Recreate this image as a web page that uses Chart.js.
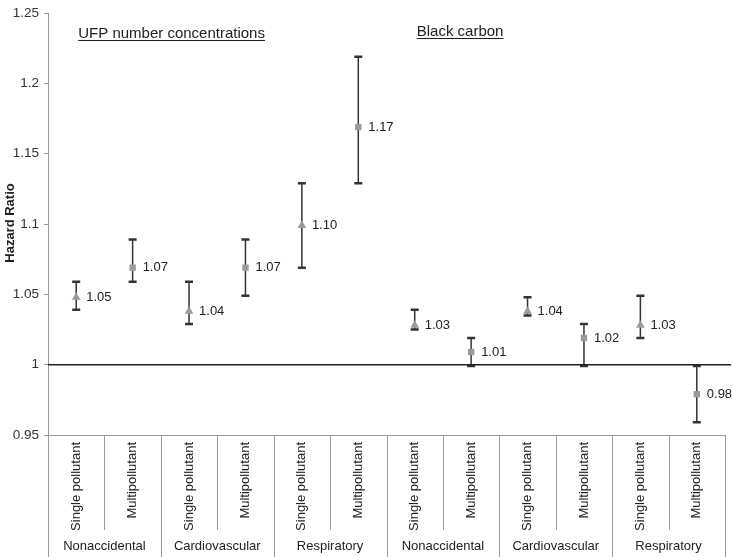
<!DOCTYPE html>
<html>
<head>
<meta charset="utf-8">
<script src="https://cdn.jsdelivr.net/npm/chart.js@4/dist/chart.umd.min.js"></script>
<style>
  html, body { margin: 0; padding: 0; background: #fff; }
  #wrap { width: 733px; height: 557px; }
</style>
</head>
<body>
<div id="wrap"><canvas id="hrChart" width="733" height="557"></canvas></div>
<script>
// data
const outcomes = ['Nonaccidental', 'Nonaccidental', 'Cardiovascular', 'Cardiovascular', 'Respiratory', 'Respiratory',
                  'Nonaccidental', 'Nonaccidental', 'Cardiovascular', 'Cardiovascular', 'Respiratory', 'Respiratory']
const models = ['Single pollutant', 'Multipollutant', 'Single pollutant', 'Multipollutant', 'Single pollutant', 'Multipollutant',
                'Single pollutant', 'Multipollutant', 'Single pollutant', 'Multipollutant', 'Single pollutant', 'Multipollutant']
const pollutants = ['UFP number concentrations', 'Black carbon']
const hazardRatio = [1.048, 1.069, 1.038, 1.069, 1.099, 1.169, 1.028, 1.009, 1.038, 1.019, 1.028, 0.979]
const lowerCI = [1.039, 1.059, 1.029, 1.049, 1.069, 1.129, 1.025, 0.999, 1.035, 0.999, 1.019, 0.959]
const upperCI = [1.059, 1.089, 1.059, 1.089, 1.129, 1.219, 1.039, 1.019, 1.048, 1.029, 1.049, 0.999]
const yTicks = [0.95, 1, 1.05, 1.1, 1.15, 1.2, 1.25]

const FONT = '"Liberation Sans", Arial, Helvetica, sans-serif'
const categories = models.map((m, i) => m + ' ' + i)

// error bars under the markers
const errorBars = {
    id: 'errorBars',
    beforeDatasetsDraw(chart) {
        const ctx = chart.ctx
        const x = chart.scales.x
        const y = chart.scales.y
        ctx.save()
        ctx.strokeStyle = '#333'
        hazardRatio.forEach((v, i) => {
            const px = x.getPixelForValue(i)
            const top = y.getPixelForValue(upperCI[i])
            const bot = y.getPixelForValue(lowerCI[i])
            ctx.lineWidth = 1.5
            ctx.beginPath()
            ctx.moveTo(px, top)
            ctx.lineTo(px, bot)
            ctx.stroke()
            ctx.lineWidth = 2.5
            ctx.beginPath()
            ctx.moveTo(px - 4, top)
            ctx.lineTo(px + 4, top)
            ctx.moveTo(px - 4, bot)
            ctx.lineTo(px + 4, bot)
            ctx.stroke()
        })
        ctx.restore()
    },
    afterDatasetsDraw(chart) {
        const ctx = chart.ctx
        const x = chart.scales.x
        const y = chart.scales.y
        ctx.save()
        // value labels
        ctx.fillStyle = '#222'
        ctx.font = '13px ' + FONT
        ctx.textAlign = 'left'
        ctx.textBaseline = 'middle'
        hazardRatio.forEach((v, i) => {
            ctx.fillText(v.toFixed(2), x.getPixelForValue(i) + 10, y.getPixelForValue(v))
        })
        ctx.restore()
    }
}

// reference line, category box, headings, y title
const decorations = {
    id: 'decorations',
    beforeDatasetsDraw(chart) {
        const ctx = chart.ctx
        const area = chart.chartArea
        const y1 = chart.scales.y.getPixelForValue(1)
        ctx.save()
        ctx.strokeStyle = '#222'
        ctx.lineWidth = 1.5
        ctx.beginPath()
        ctx.moveTo(area.left, y1)
        ctx.lineTo(chart.width - 2, y1)
        ctx.stroke()
        ctx.restore()
    },
    afterDraw(chart) {
        const ctx = chart.ctx
        const area = chart.chartArea
        const x = chart.scales.x
        const colW = (area.right - area.left) / categories.length
        ctx.save()

        // category box lines
        ctx.strokeStyle = '#9a9a9a'
        ctx.lineWidth = 1
        ctx.beginPath()
        ctx.moveTo(area.left, area.bottom + 0.5)
        ctx.lineTo(area.right, area.bottom + 0.5)
        for (let i = 0; i <= categories.length; i++) {
            const px = Math.round(area.left + i * colW) + 0.5
            ctx.moveTo(px, area.bottom)
            ctx.lineTo(px, i % 2 === 0 ? chart.height : area.bottom + 95)
        }
        ctx.stroke()

        // rotated model labels
        ctx.fillStyle = '#222'
        ctx.font = '13px ' + FONT
        ctx.textBaseline = 'middle'
        ctx.textAlign = 'right'
        models.forEach((m, i) => {
            ctx.save()
            ctx.translate(x.getPixelForValue(i), area.bottom + 7)
            ctx.rotate(-Math.PI / 2)
            ctx.fillText(m, 0, 0)
            ctx.restore()
        })

        // outcome labels under each pair
        ctx.textAlign = 'center'
        for (let i = 0; i < outcomes.length; i += 2) {
            const cx = (x.getPixelForValue(i) + x.getPixelForValue(i + 1)) / 2
            ctx.fillText(outcomes[i], cx, area.bottom + 111)
        }

        // pollutant headings, underlined
        ctx.font = '15px ' + FONT
        ctx.textAlign = 'left'
        ctx.textBaseline = 'alphabetic'
        ctx.strokeStyle = '#222'
        pollutants.forEach((p, k) => {
            const px = x.getPixelForValue(k * 6) + 2
            const py = k === 0 ? 38 : 36
            ctx.fillText(p, px, py)
            const w = ctx.measureText(p).width
            ctx.beginPath()
            ctx.moveTo(px, py + 2.5)
            ctx.lineTo(px + w, py + 2.5)
            ctx.stroke()
        })

        // y axis title
        ctx.font = 'bold 13px ' + FONT
        ctx.textAlign = 'center'
        ctx.textBaseline = 'middle'
        ctx.translate(10, 223)
        ctx.rotate(-Math.PI / 2)
        ctx.fillText('Hazard Ratio', 0, 0)
        ctx.restore()
    }
}

new Chart(document.getElementById('hrChart'), {
    type: 'line',
    data: {
        labels: categories,
        datasets: [{
            data: hazardRatio,
            showLine: false,
            pointStyle: models.map(m => m === 'Single pollutant' ? 'triangle' : 'rect'),
            pointRadius: models.map(m => m === 'Single pollutant' ? 5 : 4.5),
            pointBackgroundColor: '#9a9a9a',
            pointBorderColor: '#9a9a9a',
            pointBorderWidth: 0
        }]
    },
    options: {
        responsive: false,
        animation: false,
        events: [],
        layout: { padding: { top: 8, right: 8, bottom: 122, left: 0 } },
        plugins: {
            legend: { display: false },
            tooltip: { enabled: false }
        },
        scales: {
            x: {
                type: 'category',
                display: false,
                offset: true
            },
            y: {
                min: yTicks[0],
                max: yTicks[yTicks.length - 1],
                afterFit(scale) { scale.width = 48 },
                afterBuildTicks(scale) { scale.ticks = yTicks.map(v => ({ value: v })) },
                border: { display: true, color: '#9a9a9a', width: 1 },
                grid: {
                    drawOnChartArea: false,
                    drawTicks: true,
                    tickLength: 4,
                    color: '#9a9a9a'
                },
                ticks: {
                    padding: 5,
                    color: '#333',
                    font: { family: FONT, size: 13.5 },
                    callback: v => String(+(+v).toFixed(2))
                }
            }
        }
    },
    plugins: [errorBars, decorations]
})
</script>
</body>
</html>
